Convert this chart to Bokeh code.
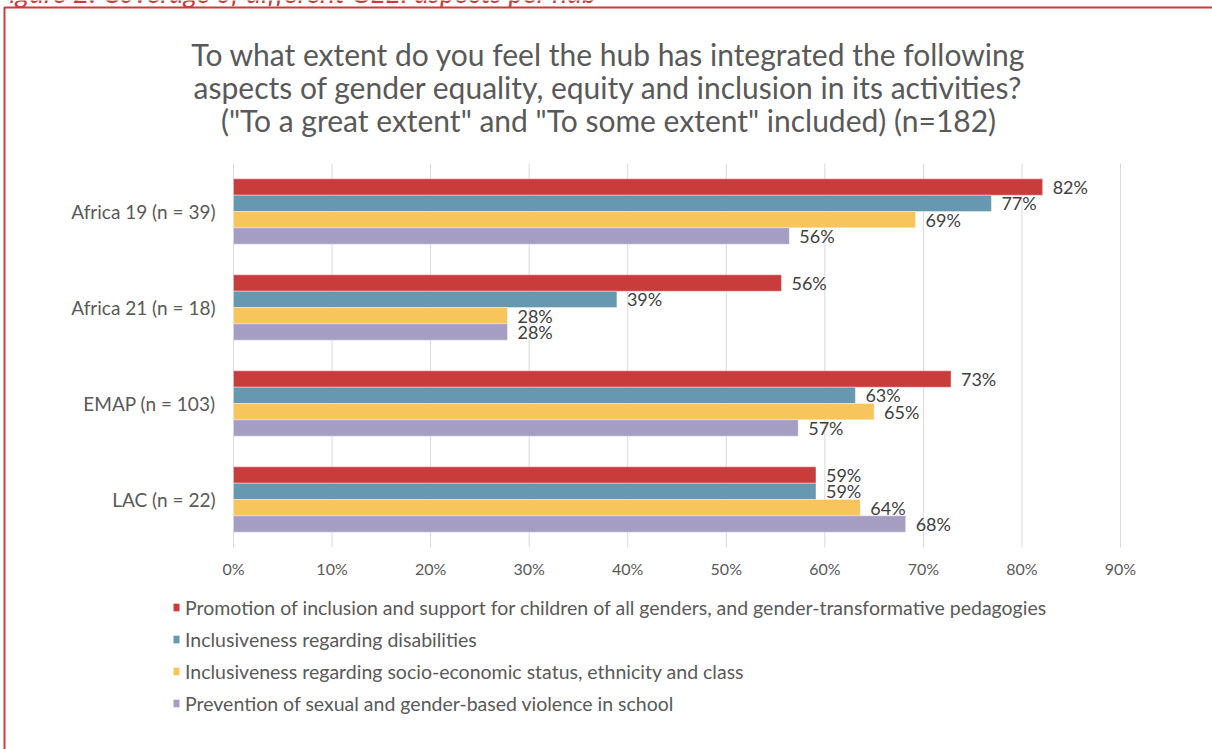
from bokeh.plotting import figure
from bokeh.models import (Range1d, Label, Legend, LegendItem,
                          BoxAnnotation, ColumnDataSource)
from bokeh.transform import dodge
from bokeh.core.properties import value
from bokeh.embed import file_html
from bokeh.resources import INLINE

# ---------------- data ----------------
hubs = ["Africa 19 (n = 39)", "Africa 21 (n = 18)", "EMAP (n = 103)", "LAC (n = 22)"]
series_names = [
    "Promotion of inclusion and support for children of all genders, and gender-transformative pedagogies",
    "Inclusiveness regarding disabilities",
    "Inclusiveness regarding socio-economic status, ethnicity and class",
    "Prevention of sexual and gender-based violence in school",
]
promotion = [82.1, 55.6, 72.8, 59.1]
disabilities = [76.9, 38.9, 63.1, 59.1]
socio_economic = [69.2, 27.8, 65.0, 63.6]
violence = [56.4, 27.8, 57.3, 68.2]
x_ticks = [0, 10, 20, 30, 40, 50, 60, 70, 80, 90]
x_tick_labels = ["0%", "10%", "20%", "30%", "40%", "50%", "60%", "70%", "80%", "90%"]
title_lines = [
    "To what extent do you feel the hub has integrated the following",
    "aspects of gender equality, equity and inclusion in its activities?",
    "(\"To a great extent\" and \"To some extent\" included) (n=182)",
]
caption = "Figure 2: Coverage of different GEEI aspects per hub"

# ---------------- style / layout (pixels) ----------------
FONT = "Lato"
colors = ["#C83C3C", "#6699B0", "#F7C55B", "#A59EC2"]
offsets = [0.255, 0.085, -0.085, -0.255]
BAR_H = 0.17
TXT = "#595959"
RED = "#C83C3C"

W, H = 1212, 749
PX_L, PX_R = 233, 1120      # 0% and 90% positions
PX_T, PX_B = 163, 547       # top / bottom of the bar area
XMIN, XMAX = x_ticks[0], x_ticks[-1]
n = len(hubs)
ppu_x = (PX_R - PX_L) / (XMAX - XMIN)
ppu_y = (PX_B - PX_T) / n

# category slots: first hub at the top, one unit per hub
hub_pos = [n - 0.5 - i for i in range(n)]

p = figure(width=W, height=H, output_backend="svg", toolbar_location=None,
           x_range=Range1d(XMIN - PX_L / ppu_x, XMAX + (W - PX_R) / ppu_x),
           y_range=Range1d(-(H - PX_B) / ppu_y, n + PX_T / ppu_y),
           min_border=0, x_axis_location=None, y_axis_location=None)
p.outline_line_color = None
p.grid.visible = False
p.background_fill_color = "white"
p.border_fill_color = "white"

# vertical gridlines over the bar area
p.segment(x0=x_ticks, y0=[0] * len(x_ticks), x1=x_ticks, y1=[n] * len(x_ticks),
          line_color="#D9D9D9", line_width=1)

# x tick labels
p.text(x=x_ticks, y=[0] * len(x_ticks), text=x_tick_labels, y_offset=21,
       text_align="center", text_baseline="middle",
       text_font=value(FONT), text_font_size="16px", text_color=TXT)

# category labels
p.text(x=[XMIN] * n, y=hub_pos, text=hubs, x_offset=-18,
       text_align="right", text_baseline="middle",
       text_font=value(FONT), text_font_size="19px", text_color=TXT)

all_values = [promotion, disabilities, socio_economic, violence]
items = []
for name, vals, col, off in zip(series_names, all_values, colors, offsets):
    src = ColumnDataSource(dict(pos=hub_pos, hub=hubs, v=vals,
                                label=[f"{round(v)}%" for v in vals]))
    r = p.hbar(y=dodge("pos", off), right="v", left=0, height=BAR_H,
               source=src, fill_color=col, line_color="white", line_width=0.6, line_alpha=0.6)
    p.text(x="v", y=dodge("pos", off), text="label", source=src,
           x_offset=10, text_baseline="middle", text_align="left",
           text_font=value(FONT), text_font_size="18px", text_color="#404040")
    items.append(LegendItem(label=name, renderers=[r]))

legend = Legend(items=items, location=(172, 34), orientation="vertical",
                glyph_width=8, glyph_height=10, label_standoff=5, spacing=8,
                label_height=24, padding=0, margin=0,
                border_line_color=None, background_fill_alpha=0,
                label_text_font=FONT, label_text_font_size="19.5px",
                label_text_color=TXT)
p.add_layout(legend)

# title lines (screen units: from the bottom-left corner)
for line, mid in zip(title_lines, [53, 86, 119]):
    p.add_layout(Label(x=608, y=H - mid, x_units="screen", y_units="screen",
                       text=line, text_align="center", text_baseline="middle",
                       text_font=FONT, text_font_size="30px", text_color=TXT))

# caption (cut at the top edge, as in the source)
p.add_layout(Label(x=-6, y=H + 9, x_units="screen", y_units="screen",
                   text=caption, text_align="left", text_baseline="middle",
                   text_font=FONT, text_font_style="italic", text_font_size="28px",
                   text_color=RED))

# red frame around the chart box
p.add_layout(BoxAnnotation(left=4, right=W + 60, top=H - 7, bottom=-60,
                           left_units="screen", right_units="screen",
                           top_units="screen", bottom_units="screen",
                           fill_alpha=0, line_color=RED, line_alpha=1, line_width=2))

open("out.html", "w").write(file_html(p, INLINE))
